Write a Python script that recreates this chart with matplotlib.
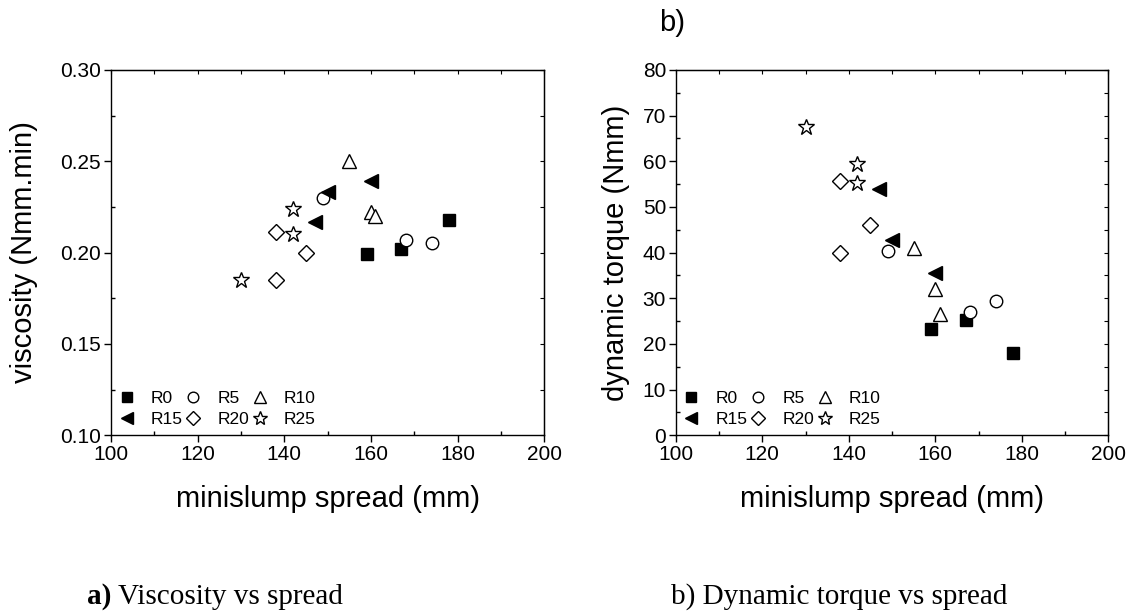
import matplotlib.pyplot as plt
from matplotlib.ticker import MultipleLocator

plt.rcParams['font.family'] = ['Liberation Sans', 'DejaVu Sans']

# Datos
series = ['R0', 'R5', 'R10', 'R15', 'R20', 'R25']
spread = {
    'R0': [159, 167, 178],
    'R5': [149, 168, 174],
    'R10': [155, 160, 161],
    'R15': [147, 150, 160],
    'R20': [138, 145, 138],
    'R25': [130, 142, 142],
}
viscosity = {
    'R0': [0.199, 0.202, 0.218],
    'R5': [0.230, 0.207, 0.205],
    'R10': [0.250, 0.222, 0.220],
    'R15': [0.217, 0.233, 0.239],
    'R20': [0.211, 0.200, 0.185],
    'R25': [0.185, 0.224, 0.210],
}
torque = {
    'R0': [23.3, 25.3, 17.9],
    'R5': [40.3, 27.0, 29.5],
    'R10': [41.0, 32.0, 26.5],
    'R15': [53.9, 42.7, 35.5],
    'R20': [55.6, 46.1, 40.0],
    'R25': [67.6, 59.4, 55.2],
}

styles = {
    'R0': dict(marker='s', mfc='black', ms=8),
    'R5': dict(marker='o', mfc='white', ms=9),
    'R10': dict(marker='^', mfc='white', ms=10),
    'R15': dict(marker='<', mfc='black', ms=10),
    'R20': dict(marker='D', mfc='white', ms=8),
    'R25': dict(marker='*', mfc='white', ms=12),
}

fig = plt.figure(figsize=(11.32, 6.13), dpi=100)
ax1 = fig.add_axes([0.098, 0.290, 0.383, 0.596])
ax2 = fig.add_axes([0.597, 0.290, 0.382, 0.596])


def dibujar(ax, ydata, ylim, ymajor, yminor, ylabel, fmt, labelpad):
    for s in series:
        st = styles[s]
        ax.plot(spread[s], ydata[s], linestyle='none', marker=st['marker'],
                markerfacecolor=st['mfc'], markeredgecolor='black',
                markeredgewidth=1.0, markersize=st['ms'], label=s)
    ax.set_xlim(100, 200)
    ax.set_ylim(*ylim)
    ax.xaxis.set_major_locator(MultipleLocator(20))
    ax.xaxis.set_minor_locator(MultipleLocator(10))
    ax.yaxis.set_major_locator(MultipleLocator(ymajor))
    ax.yaxis.set_minor_locator(MultipleLocator(yminor))
    ax.yaxis.set_major_formatter(fmt)
    ax.tick_params(which='major', direction='out', length=5, width=1,
                   labelsize=15, pad=2)
    ax.tick_params(which='minor', direction='in', length=3, width=1)
    for sp in ax.spines.values():
        sp.set_linewidth(1.0)
    # ticks hacia dentro arriba y a la derecha
    top = ax.secondary_xaxis('top')
    top.xaxis.set_major_locator(MultipleLocator(10))
    top.tick_params(direction='in', length=3, labeltop=False)
    right = ax.secondary_yaxis('right')
    right.yaxis.set_major_locator(MultipleLocator(yminor))
    right.tick_params(direction='in', length=3, labelright=False)
    ax.set_xlabel('minislump spread (mm)', fontsize=21, labelpad=15)
    ax.set_ylabel(ylabel, fontsize=21, labelpad=labelpad)
    h, l = ax.get_legend_handles_labels()
    order = [0, 3, 1, 4, 2, 5]
    ax.legend([h[i] for i in order], [l[i] for i in order], ncol=3,
              loc='lower left', bbox_to_anchor=(-0.012, -0.012),
              frameon=False, fontsize=12.5, handlelength=1.0,
              handletextpad=0.9, columnspacing=0.1, labelspacing=0.38,
              borderaxespad=0.3, markerscale=0.85)


dibujar(ax1, viscosity, (0.10, 0.30), 0.05, 0.025, 'viscosity (Nmm.min)',
        '{x:.2f}', 16)
dibujar(ax2, torque, (0, 80), 10, 5, 'dynamic torque (Nmm)', '{x:.0f}', 9)

fig.text(0.594, 0.962, 'b)', fontsize=21, ha='center', va='center')
fig.text(0.077, 0.015, 'a)', fontsize=21, family='Liberation Serif',
         fontweight='bold', ha='left', va='baseline')
fig.text(0.104, 0.015, 'Viscosity vs spread', fontsize=21,
         family='Liberation Serif', ha='left', va='baseline')
fig.text(0.593, 0.015, 'b) Dynamic torque vs spread', fontsize=21,
         family='Liberation Serif', ha='left', va='baseline')

fig.savefig('out.png', dpi=100)
